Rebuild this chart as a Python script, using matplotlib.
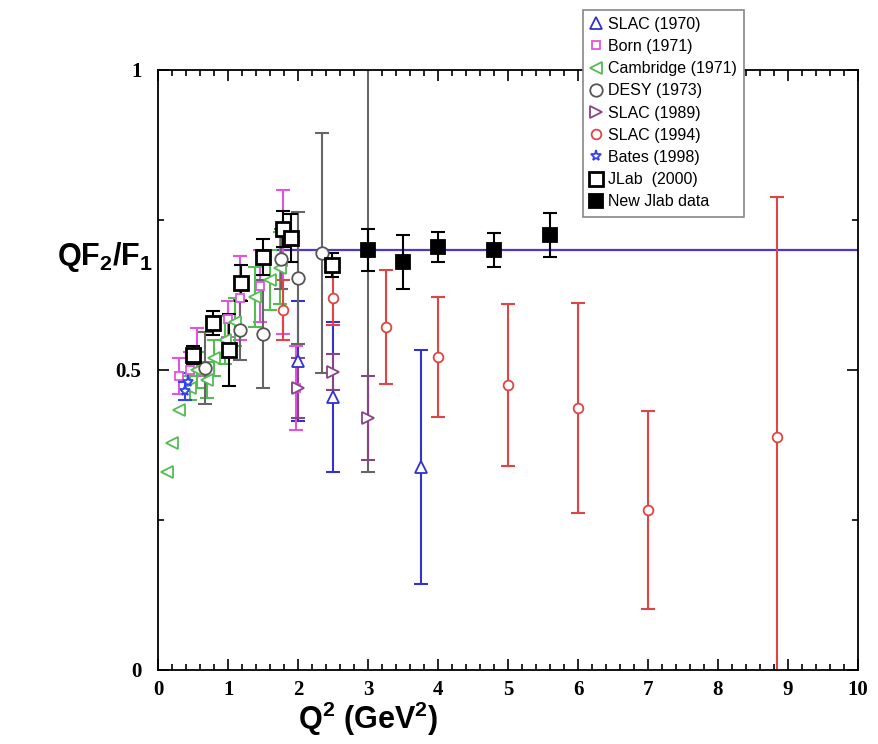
import numpy as np
from matplotlib import pyplot as plt
from matplotlib.ticker import MultipleLocator, FixedLocator

# data: Q^2, QF2/F1 and error
slac70_x = [2.0, 2.5, 3.75]
slac70_y = [0.515, 0.455, 0.338]
slac70_err = [0.10, 0.125, 0.195]

born_x = [0.30, 0.45, 0.55, 1.0, 1.17, 1.45, 1.78, 1.97]
born_y = [0.49, 0.50, 0.53, 0.585, 0.62, 0.64, 0.68, 0.47]
born_err = [0.03, 0.03, 0.04, 0.03, 0.07, 0.06, 0.12, 0.07]

cam_x = [0.13, 0.20, 0.29, 0.45, 0.55, 0.70, 0.80, 0.95, 1.10, 1.39, 1.60, 1.74]
cam_y = [0.33, 0.378, 0.433, 0.47, 0.50, 0.483, 0.52, 0.55, 0.58, 0.622, 0.65, 0.67]
cam_err = [0.0, 0.0, 0.0, 0.02, 0.03, 0.03, 0.03, 0.04, 0.04, 0.05, 0.05, 0.06]

desy_x = [0.67, 1.17, 1.5, 1.75, 2.0, 2.34, 3.0]
desy_y = [0.503, 0.567, 0.56, 0.685, 0.653, 0.695, 0.70]
desy_err = [0.06, 0.05, 0.09, 0.05, 0.11, 0.20, 0.37]

slac89_x = [2.0, 2.5, 3.0]
slac89_y = [0.47, 0.497, 0.42]
slac89_err = [0.05, 0.03, 0.07]

slac94_x = [1.78, 2.5, 3.25, 4.0, 5.0, 6.0, 7.0, 8.85]
slac94_y = [0.60, 0.62, 0.572, 0.522, 0.475, 0.437, 0.267, 0.388]
slac94_err = [0.05, 0.045, 0.095, 0.10, 0.135, 0.175, 0.165, 0.40]

bates_x = [0.38, 0.42]
bates_y = [0.465, 0.48]
bates_err = [0.015, 0.015]

jlab_x = [0.50, 0.79, 1.01, 1.19, 1.50, 1.78, 1.90, 2.49]
jlab_y = [0.525, 0.578, 0.533, 0.645, 0.688, 0.735, 0.72, 0.675]
jlab_err = [0.015, 0.02, 0.06, 0.03, 0.03, 0.03, 0.04, 0.02]

new_x = [3.0, 3.5, 4.0, 4.8, 5.6]
new_y = [0.70, 0.68, 0.705, 0.70, 0.725]
new_err = [0.035, 0.045, 0.025, 0.028, 0.037]

fit_x = [1.7, 10.0]
fit_y = [0.70, 0.70]

y_ticks = [0, 0.5, 1]
y_ticklabels = ["0", "0.5", "1"]

plt.rcParams["mathtext.fontset"] = "custom"
plt.rcParams["mathtext.rm"] = "Liberation Sans:bold"
plt.rcParams["mathtext.bf"] = "Liberation Sans:bold"

fig = plt.figure(figsize=(8.79, 7.44), dpi=100)
ax = fig.add_axes([0.18, 0.0995, 0.796, 0.8065])

ax.plot(fit_x, fit_y, color="#5533cc", lw=1.6, zorder=1)


def draw(x, y, err, marker, color, label, ms=8, face="white", ecolor=None, mew=1.3):
    x, y, err = np.asarray(x), np.asarray(y), np.asarray(err)
    has = err > 0
    ax.errorbar(x[has], y[has], yerr=err[has], fmt="none", ecolor=ecolor or color,
                elinewidth=1.5, capsize=5, capthick=1.5, zorder=2)
    h, = ax.plot(x, y, linestyle="none", marker=marker, ms=ms, mfc=face,
                 mec=color, mew=mew, label=label, zorder=3)
    return h


handles = [
    draw(slac70_x, slac70_y, slac70_err, "^", "#3333cc", "SLAC (1970)"),
    draw(born_x, born_y, born_err, "s", "#e055e0", "Born (1971)", ms=6),
    draw(cam_x, cam_y, cam_err, "<", "#55bb55", "Cambridge (1971)"),
    draw(desy_x, desy_y, desy_err, "o", "#555555", "DESY (1973)", ms=9, ecolor="#666666"),
    draw(slac89_x, slac89_y, slac89_err, ">", "#884488", "SLAC (1989)"),
    draw(slac94_x, slac94_y, slac94_err, "o", "#e04444", "SLAC (1994)", ms=7),
    draw(bates_x, bates_y, bates_err, "*", "#3344ee", "Bates (1998)", ms=8),
    draw(jlab_x, jlab_y, jlab_err, "s", "black", "JLab  (2000)", ms=10, mew=2),
    draw(new_x, new_y, new_err, "s", "black", "New Jlab data", ms=10, face="black"),
]

ax.set_xlim(0, 10)
ax.set_ylim(0, 1)
ax.xaxis.set_major_locator(MultipleLocator(1))
ax.xaxis.set_minor_locator(MultipleLocator(0.2))
ax.set_yticks(y_ticks, y_ticklabels)
ax.yaxis.set_minor_locator(FixedLocator([0.25, 0.75]))
ax.tick_params(which="both", direction="in", top=True, right=True, width=1.2)
ax.tick_params(which="major", length=8)
ax.tick_params(which="minor", length=4)
ax.tick_params(axis="x", pad=7)
ax.tick_params(axis="y", pad=12)
for lab in ax.get_xticklabels() + ax.get_yticklabels():
    lab.set_family("Liberation Serif")
    lab.set_fontweight("bold")
    lab.set_fontsize(15)
for sp in ax.spines.values():
    sp.set_linewidth(1.3)

ax.set_xlabel(r"Q$^2$ (GeV$^2$)", fontsize=22, fontweight="bold", family="Liberation Sans")
ax.xaxis.set_label_coords(0.30, -0.05)
fig.text(0.12, 0.655, r"QF$_2$/F$_1$", fontsize=22, fontweight="bold",
         family="Liberation Sans", ha="center", va="center")

leg = fig.legend(handles=handles, loc="upper left", bbox_to_anchor=(0.663, 0.987),
                 prop={"family": "Liberation Sans", "size": 11.5}, handlelength=0.8,
                 handletextpad=0.3, labelspacing=0.45, borderpad=0.45, borderaxespad=0,
                 fancybox=False, framealpha=1, edgecolor="#888888")
leg.get_frame().set_linewidth(1.2)

plt.savefig("out.png", dpi=100)
